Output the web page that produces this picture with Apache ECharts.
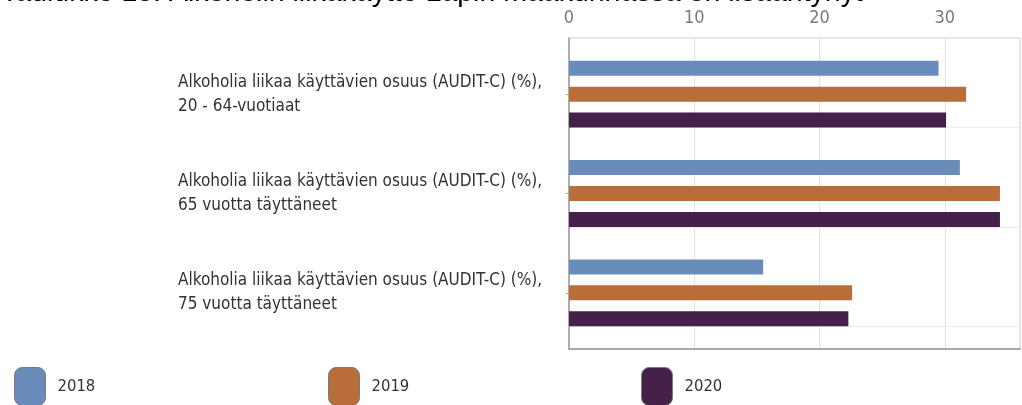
<!DOCTYPE html>
<html>
<head>
<meta charset="utf-8">
<script src="https://cdn.jsdelivr.net/npm/echarts@6/dist/echarts.min.js"></script>
<style>
  html, body { margin: 0; padding: 0; background: #fff; }
  #chart { width: 1022px; height: 405px; }
</style>
</head>
<body>
<div id="chart"></div>
<script>
const titleText = 'Taulukko 13: Alkoholin liikakäyttö Lapin maakunnassa on lisääntynyt';
const categories = [
  'Alkoholia liikaa käyttävien osuus (AUDIT-C) (%),\n20 - 64-vuotiaat',
  'Alkoholia liikaa käyttävien osuus (AUDIT-C) (%),\n65 vuotta täyttäneet',
  'Alkoholia liikaa käyttävien osuus (AUDIT-C) (%),\n75 vuotta täyttäneet'
];
const years = ['2018', '2019', '2020'];
const values2018 = [29.5, 31.2, 15.5];
const values2019 = [31.7, 34.4, 22.6];
const values2020 = [30.1, 34.4, 22.3];
const colors = ['#6a8cba', '#b96d38', '#45214a'];
const xMin = 0, xMax = 36, xInterval = 10;

const chart = echarts.init(document.getElementById('chart'), null, { renderer: 'canvas' });

const seriesValues = [values2018, values2019, values2020];
const legendLefts = [14, 328, 641];

const option = {
  animation: false,
  backgroundColor: '#fff',
  title: {
    text: titleText,
    left: 1,
    top: -20.5,
    padding: 0,
    textStyle: { fontFamily: 'Liberation Sans', fontSize: 28.5, fontWeight: 'normal', color: '#000', lineHeight: 28 }
  },
  grid: [
    { left: 569, right: 2, top: 38, bottom: 56, show: true, borderColor: '#cfcfcf', borderWidth: 1, containLabel: false },
    { left: 569, right: 2, top: 44.5, bottom: 62.5, containLabel: false },
    { left: 569, right: 2, top: 28.3, height: 298.2, containLabel: false }
  ],
  xAxis: [
    {
      gridIndex: 0, type: 'value', position: 'top', min: xMin, max: xMax, interval: xInterval,
      axisLine: { show: true, lineStyle: { color: '#a8a8a8', width: 2 } },
      axisTick: { show: false },
      axisLabel: { fontFamily: 'DejaVu Sans Condensed', fontSize: 18, color: '#7a7a7a', margin: 11, showMaxLabel: false },
      splitLine: { show: true, lineStyle: { color: '#e2e2e2', width: 1 } }
    },
    { gridIndex: 1, type: 'value', min: xMin, max: xMax, show: false },
    { gridIndex: 2, type: 'value', min: xMin, max: xMax, show: false }
  ],
  yAxis: [
    {
      gridIndex: 0, type: 'value', min: 0, max: 1,
      axisLine: { show: true, onZero: false, lineStyle: { color: '#9a9a9a', width: 1.5 } },
      axisTick: { show: false }, axisLabel: { show: false }, splitLine: { show: false }
    },
    {
      gridIndex: 1, type: 'category', inverse: true, data: categories,
      axisLine: { show: false },
      axisTick: { show: true, alignWithLabel: true, length: 3, lineStyle: { color: '#9a9a9a' } },
      axisLabel: {
        align: 'left', margin: 391,
        fontFamily: 'DejaVu Sans Condensed', fontSize: 17, lineHeight: 24, color: '#333',
        padding: [3, 0, 0, 0]
      },
      splitLine: { show: false }
    },
    {
      gridIndex: 2, type: 'value', inverse: true, min: 0, max: 3, interval: 1,
      axisLine: { show: false }, axisTick: { show: false }, axisLabel: { show: false },
      splitLine: { show: true, showMinLine: false, showMaxLine: true, lineStyle: { color: '#ebebeb', width: 1 } }
    }
  ],
  legend: years.map((y, i) => ({
    data: [y],
    left: legendLefts[i],
    top: 367,
    padding: 0,
    icon: 'roundRect',
    itemWidth: 31,
    itemHeight: 38,
    itemGap: 0,
    itemStyle: { borderColor: '#7a7a7a', borderWidth: 1 },
    textStyle: { fontFamily: 'DejaVu Sans Condensed', fontSize: 16.5, color: '#333', padding: [0, 0, 3, 7] }
  })),
  series: years.map((y, i) => ({
    name: y,
    type: 'bar',
    xAxisIndex: 1,
    yAxisIndex: 1,
    data: seriesValues[i],
    barWidth: 15,
    barGap: '73%',
    itemStyle: { color: colors[i] }
  }))
};

chart.setOption(option);
</script>
</body>
</html>
